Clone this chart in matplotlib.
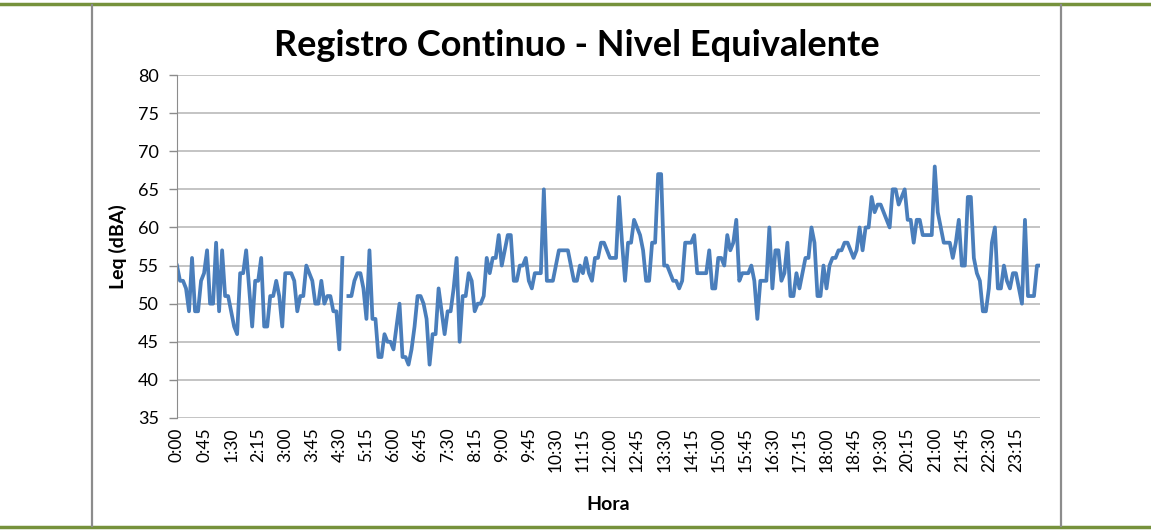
import numpy as np
import matplotlib
matplotlib.use("Agg")
import matplotlib.pyplot as plt
from matplotlib.lines import Line2D

plt.rcParams['font.family'] = ['Lato', 'DejaVu Sans']

# Leq (dBA) every 5 minutes, one row = 45 min (9 readings)
leq = [
    55, 53, 53, 52, 49, 56, 49, 49, 53,
    54, 57, 50, 50, 58, 49, 57, 51, 51,
    49, 47, 46, 54, 54, 57, 52, 47, 53,
    53, 56, 47, 47, 51, 51, 53, 51, 47,
    54, 54, 54, 53, 49, 51, 51, 55, 54,
    53, 50, 50, 53, 50, 51, 51, 49, 49,
    44, 56, np.nan, 51, 51, 53, 54, 54, 52,
    48, 57, 48, 48, 43, 43, 46, 45, 45,
    44, 47, 50, 43, 43, 42, 44, 47, 51,
    51, 50, 48, 42, 46, 46, 52, 49, 46,
    49, 49, 52, 56, 45, 51, 51, 54, 53,
    49, 50, 50, 51, 56, 54, 56, 56, 59,
    55, 57, 59, 59, 53, 53, 55, 55, 56,
    53, 52, 54, 54, 54, 65, 53, 53, 53,
    55, 57, 57, 57, 57, 55, 53, 53, 55,
    54, 56, 54, 53, 56, 56, 58, 58, 57,
    56, 56, 56, 64, 58, 53, 58, 58, 61,
    60, 59, 57, 53, 53, 58, 58, 67, 67,
    55, 55, 54, 53, 53, 52, 53, 58, 58,
    58, 59, 54, 54, 54, 54, 57, 52, 52,
    56, 56, 55, 59, 57, 58, 61, 53, 54,
    54, 54, 55, 53, 48, 53, 53, 53, 60,
    52, 57, 57, 53, 54, 58, 51, 51, 54,
    52, 54, 56, 56, 60, 58, 51, 51, 55,
    52, 55, 56, 56, 57, 57, 58, 58, 57,
    56, 57, 60, 57, 60, 60, 64, 62, 63,
    63, 62, 61, 60, 65, 65, 63, 64, 65,
    61, 61, 58, 61, 61, 59, 59, 59, 59,
    68, 62, 60, 58, 58, 58, 56, 58, 61,
    55, 55, 64, 64, 56, 54, 53, 49, 49,
    52, 58, 60, 52, 52, 55, 53, 52, 54,
    54, 52, 50, 61, 51, 51, 51, 55, 55,
]

hour_labels = ['0:00', '0:45', '1:30', '2:15', '3:00', '3:45', '4:30', '5:15',
               '6:00', '6:45', '7:30', '8:15', '9:00', '9:45', '10:30', '11:15',
               '12:00', '12:45', '13:30', '14:15', '15:00', '15:45', '16:30', '17:15',
               '18:00', '18:45', '19:30', '20:15', '21:00', '21:45', '22:30', '23:15']
label_step = 9

x = np.arange(len(leq))
y = np.array(leq, dtype=float)

fig = plt.figure(figsize=(11.51, 5.30), dpi=100)
ax = fig.add_axes([177 / 1151, 1 - 418 / 530, (1040 - 177) / 1151, (418 - 75) / 530])

# frame of the page / chart
green = '#76923C'
fig.add_artist(Line2D([0, 1], [1 - 4 / 530, 1 - 4 / 530], color=green, lw=2.5, transform=fig.transFigure))
fig.add_artist(Line2D([0, 1], [1 - 527 / 530, 1 - 527 / 530], color=green, lw=2.5, transform=fig.transFigure))
for px in (92, 1061):
    fig.add_artist(Line2D([px / 1151, px / 1151], [1 - 526 / 530, 1 - 5 / 530],
                          color='#8c8c8c', lw=1.6, transform=fig.transFigure))

ax.plot(x, y, color='#4A7EBB', lw=2.7, solid_joinstyle='round')

ax.set_xlim(0, len(leq) - 1)
ax.set_ylim(35, 80)
ax.set_yticks(np.arange(35, 81, 5))
ax.yaxis.grid(True, color='#b4b4b4', lw=1.1)
ax.set_axisbelow(True)

ax.set_xticks(x[::label_step])
ax.set_xticklabels(hour_labels, rotation=90, fontsize=12.5)
ax.tick_params(axis='x', length=0, pad=7)
ax.tick_params(axis='y', length=6, width=1, color='#8c8c8c', labelsize=13, pad=7)

for s in ('top', 'right', 'bottom'):
    ax.spines[s].set_visible(False)
ax.spines['left'].set_color('#8c8c8c')

ax.set_ylabel('Leq (dBA)', fontsize=14, fontweight='bold', labelpad=8)
ax.set_xlabel('Hora', fontsize=14, fontweight='bold', labelpad=17)

fig.text(576.5 / 1151, 1 - 45 / 530, 'Registro Continuo - Nivel Equivalente',
         ha='center', va='center', fontsize=26, fontweight='bold')

fig.savefig('out.png', dpi=100)
